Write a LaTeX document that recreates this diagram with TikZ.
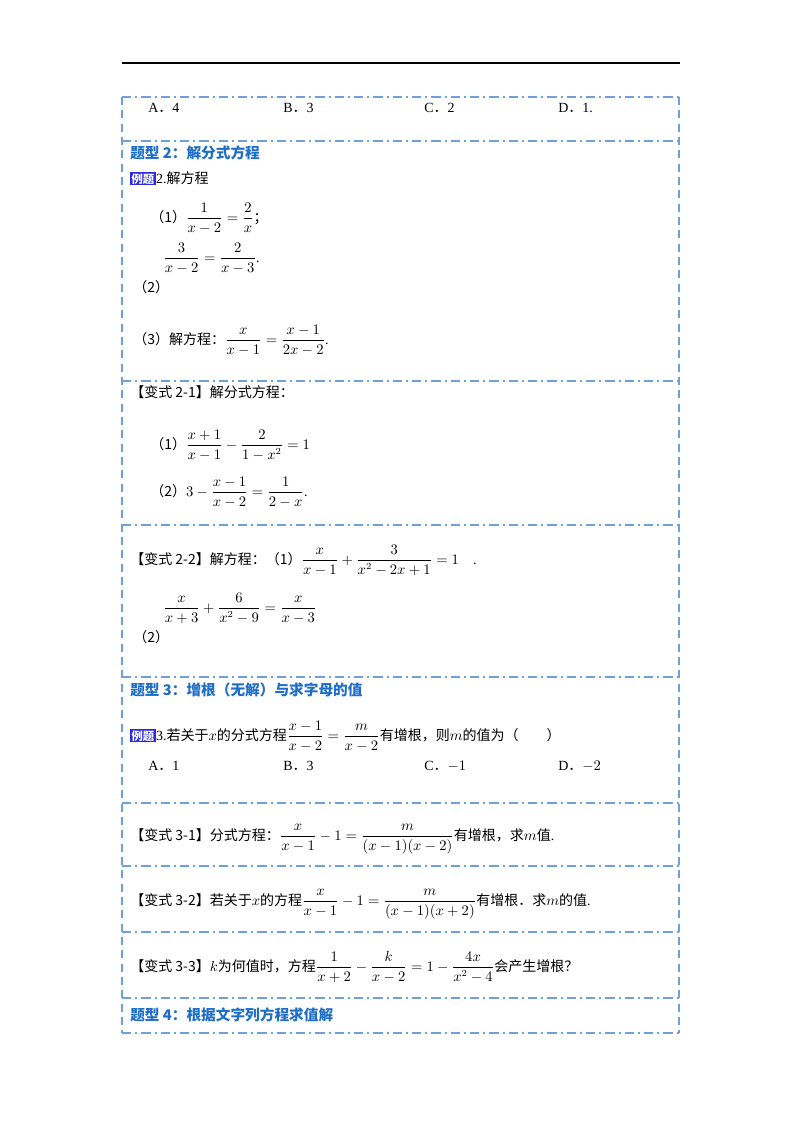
\documentclass[tikz,border=0pt]{standalone}
\usepackage{amsmath}
\usepackage{fontspec}
\setmainfont{Liberation Serif}
\newfontfamily\cjk{Noto Sans CJK SC}
\newcommand\zh[1]{{\cjk #1}}
\definecolor{frameblue}{HTML}{6FA0DC}
\definecolor{headblue}{HTML}{1E6EC8}
\definecolor{tagblue}{HTML}{2A2AE0}
\begin{document}
\begin{tikzpicture}[x=0.75pt,y=-0.75pt,
  txt/.style={anchor=base west,inner sep=0pt,font=\fontsize{10.5}{12}\selectfont},
  head/.style={anchor=base west,inner sep=0pt,font=\fontsize{11}{13}\selectfont\cjk\bfseries,text=headblue},
  sep/.style={frameblue,line width=0.9pt,dash pattern=on 7pt off 3pt on 1.5pt off 3pt},
  side/.style={frameblue,line width=0.9pt,dash pattern=on 6pt off 4pt},
  tag/.style={fill=tagblue,text=white,inner sep=1pt,font=\fontsize{8.5}{10}\selectfont\cjk\bfseries,anchor=base west}]
\useasboundingbox (0,0) rectangle (800,1132);
\fill[white] (0,0) rectangle (800,1132);
\draw[line width=0.8pt] (122,63) -- (680,63);
\draw[side] (122,97) -- (122,1033);
\draw[side] (679,97) -- (679,1033);
\foreach \yy in {97,141,381,525,677,803,866,932,998,1033}
  \draw[sep] (122,\yy) -- (679,\yy);
% top options
\node[txt] (a1) at (148,112) {A\zh{．}4};
\node[txt] (b1) at (283,112) {B\zh{．}3};
\node[txt] (c1) at (424,112) {C\zh{．}2};
\node[txt] (d1) at (558,112) {D\zh{．}1.};
% type 2
\node[head] (h2) at (130,158) {题型 2：解分式方程};
\node[tag] (t2) at (130,183) {例题};
\node[txt,anchor=base west] (e2) at (t2.base east) {2.\zh{解方程}};
\node[txt] (p1) at (150,222) {\zh{（1）}$\dfrac{1}{x-2}=\dfrac{2}{x}$\zh{；}};
\node[txt] (q2) at (163,262) {$\dfrac{3}{x-2}=\dfrac{2}{x-3}$.};
\node[txt] (p2) at (133,292) {\zh{（2）}};
\node[txt] (p3) at (133,344) {\zh{（3）解方程：}$\dfrac{x}{x-1}=\dfrac{x-1}{2x-2}$.};
\node[txt] (v21) at (130,397) {\zh{【变式 2-1】解分式方程：}};
\node[txt] (v21a) at (150,449) {\zh{（1）}$\dfrac{x+1}{x-1}-\dfrac{2}{1-x^{2}}=1$};
\node[txt] (v21b) at (150,496) {\zh{（2）}$3-\dfrac{x-1}{x-2}=\dfrac{1}{2-x}$.};
\node[txt] (v22) at (130,564) {\zh{【变式 2-2】解方程：（1）}$\dfrac{x}{x-1}+\dfrac{3}{x^{2}-2x+1}=1$\quad.};
\node[txt] (v22b) at (163,612) {$\dfrac{x}{x+3}+\dfrac{6}{x^{2}-9}=\dfrac{x}{x-3}$};
\node[txt] (v22c) at (133,642) {\zh{（2）}};
% type 3
\node[head] (h3) at (130,695) {题型 3：增根（无解）与求字母的值};
\node[tag] (t3) at (130,740) {例题};
\node[txt,anchor=base west] (e3) at (t3.base east) {3.\zh{若关于}$x$\zh{的分式方程}$\dfrac{x-1}{x-2}=\dfrac{m}{x-2}$\zh{有增根，则}$m$\zh{的值为（\qquad）}};
\node[txt] (a3) at (148,770) {A\zh{．}1};
\node[txt] (b3) at (283,770) {B\zh{．}3};
\node[txt] (c3) at (424,770) {C\zh{．}$-1$};
\node[txt] (d3) at (558,770) {D\zh{．}$-2$};
\node[txt] (v31) at (130,840) {\zh{【变式 3-1】分式方程：}$\dfrac{x}{x-1}-1=\dfrac{m}{(x-1)(x-2)}$\zh{有增根，求}$m$\zh{值}.};
\node[txt] (v32) at (130,905) {\zh{【变式 3-2】若关于}$x$\zh{的方程}$\dfrac{x}{x-1}-1=\dfrac{m}{(x-1)(x+2)}$\zh{有增根．求}$m$\zh{的值}.};
\node[txt] (v33) at (130,971) {\zh{【变式 3-3】}$k$\zh{为何值时，方程}$\dfrac{1}{x+2}-\dfrac{k}{x-2}=1-\dfrac{4x}{x^{2}-4}$\zh{会产生增根？}};
\node[head] (h4) at (130,1020) {题型 4：根据文字列方程求值解};
\end{tikzpicture}
\end{document}
